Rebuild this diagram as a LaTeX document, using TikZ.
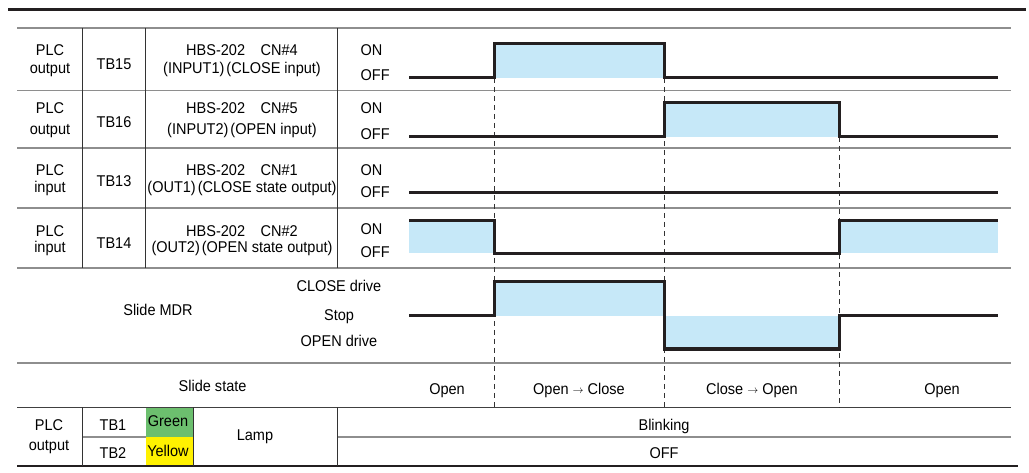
\documentclass[tikz,border=0pt]{standalone}
\usepackage{fontspec}
\setmainfont{Liberation Sans}[FakeStretch=0.93]
\definecolor{wavec}{HTML}{231F20}
\definecolor{fillblue}{HTML}{C6E8F8}
\definecolor{rowgray}{HTML}{8E8E8E}
\definecolor{lampgreen}{HTML}{6CBF6E}
\definecolor{lampyellow}{HTML}{FFF100}
\tikzset{
  rowline/.style={draw=rowgray, line width=1.3pt},
  darkline/.style={draw=black!75, line width=1pt},
  vline/.style={draw=black!80, line width=0.9pt},
  wave/.style={draw=wavec, line width=3pt, line join=miter},
  dashline/.style={draw=black!80, line width=0.9pt, dash pattern=on 5pt off 4pt},
  lbl/.style={font=\fontsize{15.6}{18}\selectfont, inner sep=0pt, anchor=base},
  lblw/.style={lbl, anchor=base west},
  bluefill/.style={fill=fillblue},
}
\newcommand{\arr}{\raisebox{0.5pt}{\fontsize{11}{12}\selectfont$\rightarrow$}}
\begin{document}
\begin{tikzpicture}[x=1pt,y=-1pt]
\useasboundingbox (0,0) rectangle (1029,473);
% fills
\fill[bluefill] (494,44) rectangle (664,78);
\fill[bluefill] (664,103) rectangle (839,137);
\fill[bluefill] (409,220.7) rectangle (494,253.3);
\fill[bluefill] (839,220.7) rectangle (998,253.3);
\fill[bluefill] (494,282) rectangle (664,316);
\fill[bluefill] (664,316) rectangle (839,349);
\fill[lampgreen] (145.7,407.3) rectangle (193.7,437);
\fill[lampyellow] (145.7,437) rectangle (193.7,466);
% top rule
\draw[line width=3pt, draw=wavec] (8,10) -- (1026,10);
% row lines
\foreach \yy in {28,90.5,148,208,268,363}{\draw[rowline] (17,\yy) -- (1011,\yy);}
\draw[darkline] (17,407.3) -- (1011,407.3);
\draw[rowline] (82.7,437) -- (145.7,437);
\draw[rowline] (337.7,437) -- (1011,437);
\draw[line width=2pt, draw=wavec] (17,466) -- (1018,466);
% vertical lines
\foreach \xx in {82.7,145.7,337.7}{\draw[vline] (\xx,28) -- (\xx,268);}
\foreach \xx in {82.7,193.7,337.7}{\draw[vline] (\xx,407.3) -- (\xx,466);}
% dashed timing lines
\coordinate (d1t) at (494,78);   \coordinate (d1b) at (494,407.3);
\coordinate (d2t) at (664,78);   \coordinate (d2b) at (664,407.3);
\coordinate (d3t) at (839,137);  \coordinate (d3b) at (839,407.3);
\draw[dashline] (d1t) -- (d1b);
\draw[dashline] (d2t) -- (d2b);
\draw[dashline] (d3t) -- (d3b);
% waveforms
\draw[wave] (409,78) -- (494,78) -- (494,44) -- (664,44) -- (664,78) -- (998,78);
\draw[wave] (409,137) -- (664,137) -- (664,103) -- (839,103) -- (839,137) -- (998,137);
\draw[wave] (409,192.7) -- (998,192.7);
\draw[wave] (409,220.7) -- (494,220.7) -- (494,253.3) -- (839,253.3) -- (839,220.7) -- (998,220.7);
\draw[wave] (409,316) -- (494,316) -- (494,282) -- (664,282) -- (664,349) -- (839,349) -- (839,316) -- (998,316);
% row 1
\node[lbl] (r1a) at (50,56) {PLC};
\node[lbl] (r1b) at (50,74) {output};
\node[lbl] (r1c) at (114,70) {TB15};
\node[lbl] (r1d) at (242,56) {HBS-202\hspace{1em}CN\#4};
\node[lbl] (r1e) at (242,74) {(INPUT1)\hspace{2pt}(CLOSE input)};
\node[lblw] (r1on) at (360.5,56) {ON};
\node[lblw] (r1off) at (360.5,81) {OFF};
% row 2
\node[lbl] (r2a) at (50,114) {PLC};
\node[lbl] (r2b) at (50,135) {output};
\node[lbl] (r2c) at (114,128) {TB16};
\node[lbl] (r2d) at (242,114) {HBS-202\hspace{1em}CN\#5};
\node[lbl] (r2e) at (242,135) {(INPUT2)\hspace{2pt}(OPEN input)};
\node[lblw] (r2on) at (360.5,114) {ON};
\node[lblw] (r2off) at (360.5,140) {OFF};
% row 3
\node[lbl] (r3a) at (50,176) {PLC};
\node[lbl] (r3b) at (50,193) {input};
\node[lbl] (r3c) at (114,187) {TB13};
\node[lbl] (r3d) at (242,176) {HBS-202\hspace{1em}CN\#1};
\node[lbl] (r3e) at (242,193) {(OUT1)\hspace{2pt}(CLOSE state output)};
\node[lblw] (r3on) at (360.5,176) {ON};
\node[lblw] (r3off) at (360.5,198) {OFF};
% row 4
\node[lbl] (r4a) at (50,237) {PLC};
\node[lbl] (r4b) at (50,253) {input};
\node[lbl] (r4c) at (114,249) {TB14};
\node[lbl] (r4d) at (242,237) {HBS-202\hspace{1em}CN\#2};
\node[lbl] (r4e) at (242,253) {(OUT2)\hspace{2pt}(OPEN state output)};
\node[lblw] (r4on) at (360.5,235) {ON};
\node[lblw] (r4off) at (360.5,258) {OFF};
% slide MDR
\node[lbl] (mdr) at (158,316) {Slide MDR};
\node[lbl] (mclose) at (339,291.7) {CLOSE drive};
\node[lbl] (mstop) at (339,320) {Stop};
\node[lbl] (mopen) at (339,346) {OPEN drive};
% slide state
\node[lbl] (ss) at (212.6,391.7) {Slide state};
\node[lbl] (s1) at (447,394) {Open};
\node[lbl] (s2) at (579,394) {Open \arr{} Close};
\node[lbl] (s3) at (752,394) {Close \arr{} Open};
\node[lbl] (s4) at (942,394) {Open};
% lamp
\node[lbl] (la) at (49,430.7) {PLC};
\node[lbl] (lb) at (49,450) {output};
\node[lbl] (tb1) at (113,430) {TB1};
\node[lbl] (tb2) at (113,458) {TB2};
\node[lbl] (gr) at (168,426.7) {Green};
\node[lbl] (ye) at (168,456) {Yellow};
\node[lbl] (lamp) at (255,440) {Lamp};
\node[lbl] (blink) at (664,430) {Blinking};
\node[lbl] (off) at (664,458) {OFF};
\end{tikzpicture}
\end{document}
